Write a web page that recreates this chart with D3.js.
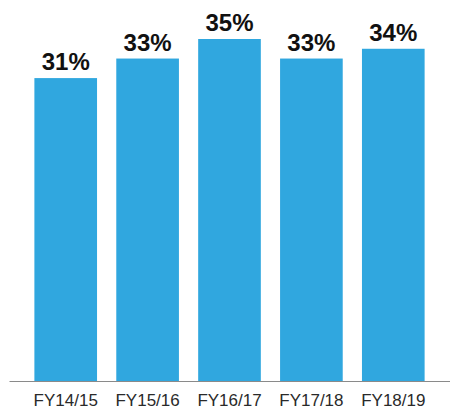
<!DOCTYPE html>
<html>
<head>
<meta charset="utf-8">
<script src="https://cdn.jsdelivr.net/npm/d3@7"></script>
<style>
  body { margin: 0; background: #fff; }
</style>
</head>
<body>
<svg></svg>
<script>
// share by financial year

var width = 450;
var height = 410;
var baseY = 381;

var years = ["FY14/15", "FY15/16", "FY16/17", "FY17/18", "FY18/19"];
var shares = [31, 33, 35, 33, 34];

var xScale = d3.scaleBand()
                  .domain(years)
                  .range([9, 450])
                  .paddingInner(0.235)
                  .paddingOuter(0.31);

var yScale = d3.scaleLinear()
                  .domain([0, 35])
                  .range([baseY, 39]);

var svg = d3.select('svg')
              .attr('width', width)
              .attr('height', height);

svg.selectAll('rect')
    .data(years)
    .enter()
    .append('rect')
      .attr('x', d => xScale(d))
      .attr('y', (d, i) => yScale(shares[i]))
      .attr('width', xScale.bandwidth())
      .attr('height', (d, i) => baseY - yScale(shares[i]))
      .attr('fill', '#30a7df');

svg.selectAll('.val')
    .data(years)
    .enter()
    .append('text')
      .classed('val', true)
      .attr('x', d => xScale(d) + xScale.bandwidth() / 2)
      .attr('y', (d, i) => yScale(shares[i]) - 8)
      .attr('text-anchor', 'middle')
      .style('font-family', 'Liberation Sans, Arial, sans-serif')
      .style('font-weight', 'bold')
      .style('font-size', '24px')
      .attr('fill', '#111')
      .text((d, i) => shares[i] + '%');

var xAxis = svg.append("g")
    .attr("transform", "translate(0," + baseY + ")")
    .classed("x-axis", true)
    .call(d3.axisBottom(xScale).tickSize(0).tickSizeOuter(0).tickPadding(13));

xAxis.select('.domain')
    .attr('stroke', '#8a8a8a')
    .attr('stroke-width', 1.2);

xAxis.selectAll('text')
    .style('font-family', 'Liberation Sans, Arial, sans-serif')
    .style('font-size', '17px')
    .attr('fill', '#2a2a2a');
</script>
</body>
</html>
